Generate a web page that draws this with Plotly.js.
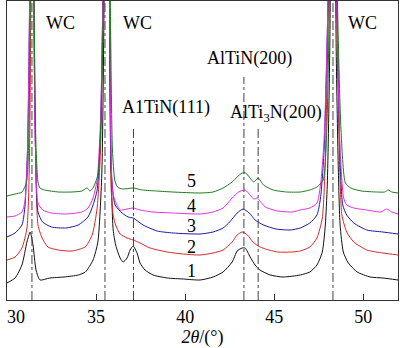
<!DOCTYPE html>
<html>
<head>
<meta charset="utf-8">
<script src="https://cdn.plot.ly/plotly-3.0.1.min.js"></script>
<style>html,body{margin:0;padding:0;background:#fff;}#chart{width:400px;height:348px;}</style>
</head>
<body>
<div id="chart"></div>
<script>
// Sample 1 (black)
const x1 = [30,30.45,30.84,31.12,31.3,31.46,31.63,31.85,32.4,33.2,34.0,34.4,34.83,35.1,35.32,35.45,35.62,35.75,35.85,35.96,36.1,36.35,36.52,36.74,36.91,37.08,37.3,37.47,37.75,38.2,39.0,39.9,40.84,41.57,42.13,42.64,42.92,43.2,43.37,43.65,43.93,44.2,44.78,45.5,46.46,47.0,47.4,47.7,47.87,47.98,48.12,48.3,48.48,48.6,48.7,48.88,49.16,49.66,50.39,51.1,51.95];
const y1 = [17,22,35,58,68,55,30,20,22,23,25,28,40,58,125,300,700,300,125,70,55,42,38,42,50,54,47,37,30,25,22,21,20,23,28,38,49,52,52,43,35,30,25,23,25,28,35,48,75,115,250,700,250,130,75,48,37,28,23,22,20];
// Sample 2 (red)
const x2 = [30,30.45,30.84,31.12,31.25,31.34,31.42,31.52,31.62,31.74,31.97,32.3,32.87,33.65,34.38,34.78,35.06,35.25,35.42,35.62,35.76,35.85,35.96,36.1,36.35,36.74,37.08,37.47,38.03,39.0,39.9,40.84,41.57,42.13,42.64,42.92,43.2,43.5,43.8,44.1,44.5,45.2,46.0,46.46,47.0,47.4,47.7,47.85,48.05,48.28,48.5,48.68,48.8,49.07,49.47,50.2,51.1,51.95];
const y2 = [40,43,52,72,130,300,700,300,130,75,62,53,50,49,53,65,92,150,350,700,300,110,85,75,66,62,60,57,52,48,46,45,47,50,58,65,68,65,58,54,51,48,48,49,53,62,82,130,300,700,300,130,85,68,58,50,47,45];
// Sample 3 (blue)
const x3 = [30,30.45,30.84,31.0,31.15,31.3,31.4,31.5,31.6,31.74,32.0,32.5,33.3,34.0,34.55,34.83,35.06,35.25,35.42,35.62,35.76,35.85,36.07,36.46,36.8,37.08,37.64,38.43,39.33,40.84,41.57,42.13,42.5,42.92,43.25,43.6,43.93,44.4,45.1,45.9,46.46,47.0,47.4,47.6,47.8,48.02,48.28,48.52,48.7,48.85,49.07,49.47,50.2,51.1,51.95];
const y3 = [63,67,75,92,150,350,700,300,150,88,78,73,72,75,83,95,110,170,350,700,300,130,95,87,83,82,75,69,67,66,68,72,78,87,91,87,80,75,71,70,72,77,85,102,150,300,700,300,140,95,85,77,70,68,66];
// Sample 4 (magenta)
const x4 = [30,30.45,30.84,31.0,31.15,31.3,31.4,31.5,31.6,31.74,32.0,32.5,33.3,34.2,34.55,34.83,35.06,35.25,35.42,35.62,35.76,35.85,35.96,36.35,36.74,37.08,37.47,38.2,39.33,40.84,41.57,42.13,42.64,43.0,43.37,43.65,43.85,44.05,44.2,44.5,45.2,46.0,46.46,47.0,47.4,47.6,47.8,48.02,48.28,48.52,48.7,48.9,49.07,49.47,50.2,51.0,51.3,51.6,51.95];
const y4 = [83,84,88,98,150,350,700,300,150,97,90,87,86,88,92,102,120,180,350,700,300,140,105,90,91,92,90,88,87,86,88,92,102,108,110,105,101,102,99,93,89,88,90,92,97,115,160,300,700,300,150,102,95,92,90,88,91,88,86];
// Sample 5 (green)
const x5 = [30,30.45,30.84,31.1,31.22,31.33,31.42,31.52,31.62,31.74,31.85,32.1,32.9,33.65,34.2,34.5,34.65,34.83,35.1,35.28,35.45,35.65,35.8,35.92,36.05,36.2,36.5,37.08,37.6,38.4,39.3,40.84,41.57,42.13,42.64,42.92,43.2,43.4,43.6,43.85,44.1,44.4,44.95,45.7,46.46,47.0,47.4,47.75,47.95,48.1,48.3,48.55,48.75,49.0,49.3,49.9,50.75,51.2,51.4,51.6,51.95];
const y5 = [104,106,108,118,160,350,700,300,160,118,112,110,108,108,109,112,109,112,125,180,350,700,300,150,120,113,111,112,110,109,108,107,108,112,118,123,127,127,123,118,122,115,110,108,108,110,113,120,170,300,700,300,170,117,112,109,108,108,110,108,107];

const seriesX = [x1, x2, x3, x4, x5];
const seriesY = [y1, y2, y3, y4, y5];
const seriesColors = ['#111111', '#d42a2a', '#1a1aa8', '#e030e0', '#1f7a1f'];

// Reference (dash-dot) lines: position and top value
const refX = [31.4, 35.5, 37.1, 43.3, 44.1, 48.3];
const refTop = [299, 299, 172, 223, 172, 299];

// Labels
const peakLabels = ['WC', 'WC', 'A1TiN(111)', 'AlTiN(200)', 'AlTi<sub>3</sub>N(200)', 'WC'];
const peakLabelX = [33.0, 37.3, 38.9, 43.6, 45.1, 49.95];
const peakLabelY = [277, 277, 193, 242, 187, 277];
const curveLabels = ['1', '2', '3', '4', '5'];
const curveLabelY = [29, 53, 74, 94, 119];
const curveLabelX = 40.34;

const tickVals = [30, 35, 40, 45, 50];
const tickText = ['\u2002\u200230', '35', '40', '45', '50'];

const font = 'Liberation Serif, Times New Roman, serif';

const traces = seriesX.map((xs, i) => ({
  x: xs, y: seriesY[i], type: 'scatter', mode: 'lines',
  line: {color: seriesColors[i], width: 1, shape: 'spline', smoothing: 0.6},
  hoverinfo: 'skip', showlegend: false
}));

const shapes = refX.map((xv, i) => ({
  type: 'line', xref: 'x', yref: 'y', x0: xv, x1: xv, y0: 0, y1: refTop[i],
  line: {color: '#444', width: 1, dash: 'dashdot'}
}));

const annotations = peakLabels.map((t, i) => ({
  text: t, x: peakLabelX[i], y: peakLabelY[i], xref: 'x', yref: 'y',
  showarrow: false, font: {family: font, size: 18, color: '#000'}
})).concat(curveLabels.map((t, i) => ({
  text: t, x: curveLabelX, y: curveLabelY[i], xref: 'x', yref: 'y',
  showarrow: false, font: {family: font, size: 18, color: '#000'}
})));

const layout = {
  width: 400, height: 348,
  margin: {l: 7, r: 2, t: 1, b: 48},
  paper_bgcolor: '#fff', plot_bgcolor: '#fff',
  font: {family: font, size: 18, color: '#000'},
  xaxis: {
    range: [30, 51.95], tickvals: tickVals, ticktext: tickText,
    ticks: 'inside', ticklen: 6, tickcolor: '#333', tickwidth: 1,
    ticklabeloverflow: 'allow',
    showline: true, mirror: true, linecolor: '#333', linewidth: 1,
    showgrid: false, zeroline: false,
    tickfont: {family: font, size: 18, color: '#000'},
    title: {text: '<i>2θ</i>/(°)', font: {family: font, size: 18, color: '#000'}, standoff: 3}
  },
  yaxis: {
    range: [0, 299], showticklabels: false, ticks: '',
    showline: true, mirror: true, linecolor: '#333', linewidth: 1,
    showgrid: false, zeroline: false
  },
  shapes: shapes,
  annotations: annotations
};

Plotly.newPlot('chart', traces, layout, {staticPlot: true, displayModeBar: false});
</script>
</body>
</html>
